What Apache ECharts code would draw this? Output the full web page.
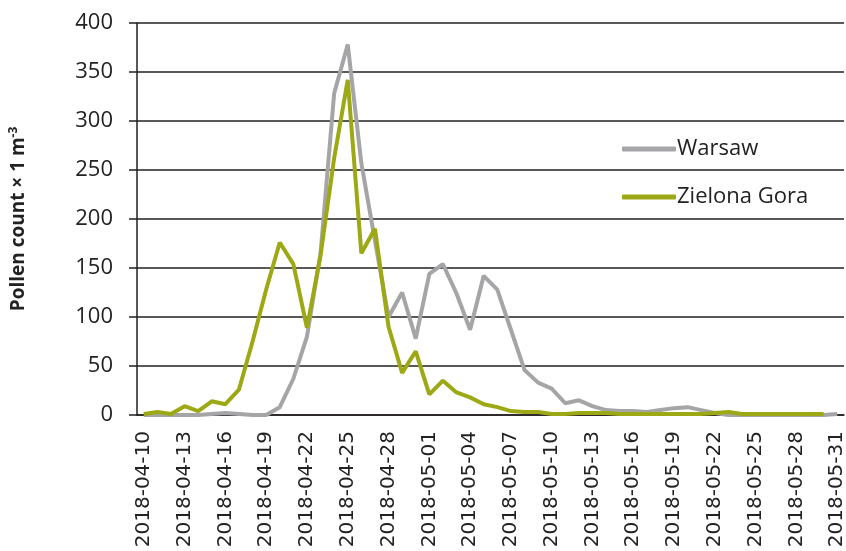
<!DOCTYPE html>
<html>
<head>
<meta charset="utf-8">
<style>
  html, body { margin: 0; padding: 0; background: #fff; }
  #main { width: 846px; height: 551px; }
</style>
<script src="https://cdn.jsdelivr.net/npm/echarts@6/dist/echarts.min.js"></script>
</head>
<body>
<div id="main"></div>
<script>
// dates 2018-04-10 .. 2018-05-31
var dates = [
  '2018-04-10', '2018-04-11', '2018-04-12', '2018-04-13', '2018-04-14', '2018-04-15', '2018-04-16',
  '2018-04-17', '2018-04-18', '2018-04-19', '2018-04-20', '2018-04-21', '2018-04-22', '2018-04-23',
  '2018-04-24', '2018-04-25', '2018-04-26', '2018-04-27', '2018-04-28', '2018-04-29', '2018-04-30',
  '2018-05-01', '2018-05-02', '2018-05-03', '2018-05-04', '2018-05-05', '2018-05-06', '2018-05-07',
  '2018-05-08', '2018-05-09', '2018-05-10', '2018-05-11', '2018-05-12', '2018-05-13', '2018-05-14',
  '2018-05-15', '2018-05-16', '2018-05-17', '2018-05-18', '2018-05-19', '2018-05-20', '2018-05-21',
  '2018-05-22', '2018-05-23', '2018-05-24', '2018-05-25', '2018-05-26', '2018-05-27', '2018-05-28',
  '2018-05-29', '2018-05-30', '2018-05-31'
];

var warsaw = [
  0, 0, 0, 0, 0, 1, 2, 1, 0, 0,
  8, 37, 80, 165, 328, 378, 257, 178, 100, 125,
  78, 144, 154, 124, 87, 142, 128, 87, 46, 33,
  27, 12, 15, 9, 5, 4, 4, 3, 5, 7,
  8, 5, 2, 0, 0, 0, 0, 0, 0, 0,
  0, 1
];

var zielonaGora = [
  1, 3, 1, 9, 4, 14, 11, 26, 75, 128,
  176, 154, 89, 163, 262, 342, 165, 190, 90, 43,
  65, 21, 35, 23, 18, 11, 8, 4, 3, 3,
  1, 1, 2, 2, 2, 1, 1, 1, 1, 1,
  1, 1, 2, 3, 1, 1, 1, 1, 1, 1,
  1, null
];

var seriesNames = ['Warsaw', 'Zielona Gora'];

var dark = '#231f20';

var myChart = echarts.init(document.getElementById('main'));
myChart.setOption({
    animation: false,
    color: ['#a5a5a8', '#9ca814'],
    grid: {
        left: 137,
        right: 2,
        top: 23,
        bottom: 136,
        containLabel: false,
        outerBoundsMode: 'none'
    },
    legend: {
        data: seriesNames,
        orient: 'vertical',
        left: 617,
        top: 131,
        icon: 'roundRect',
        itemWidth: 54,
        itemHeight: 5,
        itemGap: 22,
        textStyle: {
            fontFamily: 'Open Sans',
            fontSize: 22,
            lineHeight: 26,
            color: '#222',
            padding: [0, 0, 0, -4]
        }
    },
    xAxis: {
        type: 'category',
        data: dates,
        boundaryGap: true,
        axisLine: { lineStyle: { color: dark, width: 1.5 } },
        axisTick: {
            interval: 2,
            length: 7,
            lineStyle: { color: dark, width: 1.5 }
        },
        axisLabel: {
            interval: 2,
            rotate: 90,
            margin: 16,
            fontFamily: 'DejaVu Sans',
            fontSize: 20,
            color: '#222'
        },
        splitLine: { show: false }
    },
    yAxis: {
        type: 'value',
        min: 0,
        max: 400,
        interval: 50,
        name: 'Pollen count × 1 m{sup|-3}',
        nameLocation: 'middle',
        nameGap: 108,
        nameTextStyle: {
            fontFamily: 'Open Sans',
            fontSize: 19,
            fontWeight: 'bold',
            color: '#222',
            rich: {
                sup: {
                    fontFamily: 'Open Sans',
                    fontSize: 12,
                    fontWeight: 'bold',
                    color: '#222',
                    verticalAlign: 'top',
                    padding: [0, 0, 9, 0]
                }
            }
        },
        axisLine: { show: true, lineStyle: { color: dark, width: 1.5 } },
        axisTick: { show: true, length: 8, lineStyle: { color: dark, width: 1.5 } },
        axisLabel: {
            margin: 24,
            fontFamily: 'Open Sans',
            fontSize: 22,
            color: '#222'
        },
        splitLine: { lineStyle: { color: dark, width: 1.5 } }
    },
    series: [{
        name: seriesNames[0],
        type: 'line',
        data: warsaw,
        symbol: 'none',
        lineStyle: { width: 4 }
    }, {
        name: seriesNames[1],
        type: 'line',
        data: zielonaGora,
        symbol: 'none',
        lineStyle: { width: 4 }
    }]
});
</script>
</body>
</html>
